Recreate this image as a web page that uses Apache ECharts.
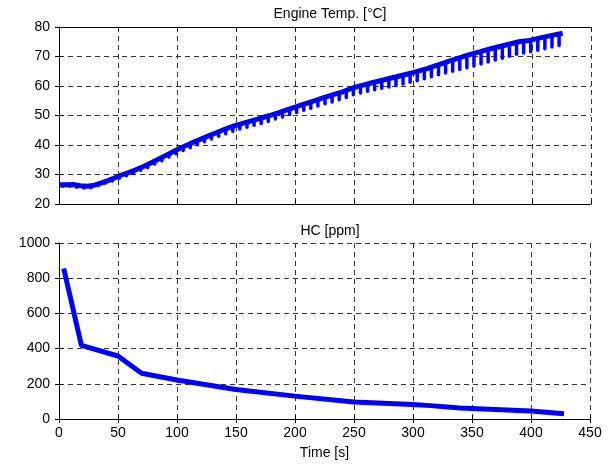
<!DOCTYPE html>
<html>
<head>
<meta charset="utf-8">
<script src="https://cdn.jsdelivr.net/npm/echarts@6/dist/echarts.min.js"></script>
<style>
html,body{margin:0;padding:0;background:#fff;}
#main{width:612px;height:466px;}
</style>
</head>
<body>
<div id="main"></div>
<script>
// 发动机温度：上包络 (时间 s, 温度 °C)
var peakTime = [0,6,12,18,24,30,36,42,48,54,60,66,72,78,84,90,96,102,108,114,120,126,132,138,144,150,156,162,168,174,
	180,186,192,198,204,210,216,222,228,234,240,246,252,258,264,270,276,282,288,294,300,306,312,318,324,330,336,342,348,354,
	360,366,372,378,384,390,396,402,408,414,420,426];
var peakValue = [26.5,26.5,26.6,26.2,26.0,26.4,27.2,28.0,29.0,30.0,30.8,31.8,32.8,34.0,35.2,36.4,37.6,38.8,39.9,41.0,
	42.0,43.0,44.0,45.0,45.9,46.7,47.4,48.1,48.8,49.5,50.2,51.0,51.8,52.6,53.4,54.2,55.0,55.8,56.6,57.3,
	58.0,59.0,59.8,60.4,61.0,61.6,62.2,62.8,63.4,64.0,64.6,65.3,66.0,66.8,67.6,68.4,69.2,70.0,70.7,71.4,
	72.1,72.7,73.3,73.9,74.5,75.1,75.3,75.8,76.4,76.9,77.4,77.9];
// 发动机温度：周期性下探 (时间 s, 温度 °C)
var dipTime = [3,9,15,21,27,33,39,45,51,57,63,69,75,81,87,93,99,105,111,117,123,129,135,141,147,153,159,165,171,177,
	183,189,195,201,207,213,219,225,231,237,243,249,255,261,267,273,279,285,291,297,303,309,315,321,327,333,339,345,351,357,
	363,369,375,381,387,393,399,405,411,417,423];
var dipValue = [26.0,26.0,25.7,25.4,25.5,26.2,27.0,27.8,28.7,29.6,30.4,31.4,32.4,33.6,34.7,35.9,37.0,38.1,39.1,40.1,
	41.1,42.0,43.0,43.8,44.7,45.4,46.0,46.7,47.3,48.0,48.8,49.5,50.3,51.0,51.8,52.5,53.2,54.0,54.6,55.3,
	56.1,57.0,57.6,58.2,58.7,59.2,59.7,60.2,60.7,61.3,61.8,62.5,63.1,63.8,64.4,65.0,65.6,66.2,66.8,67.5,
	68.1,68.8,69.4,70.1,70.8,71.2,71.6,72.1,72.6,73.2,73.7];

// HC 浓度 (时间 s, ppm)
var hcTime = [4,19,50,70,100,150,200,250,300,315,340,400,428];
var hcValue = [855,418,358,260,222,168,130,96,82,76,62,46,30];

var font = "'Liberation Sans', Arial, sans-serif";
var fs = 14;

function pairs(xs, ys) {
	var out = [];
	for (var i = 0; i < xs.length; i++) out.push([xs[i], ys[i]]);
	return out;
}
// 下探线段：从包络（相邻峰值平均）到下探值
function dipSegments() {
	var out = [];
	for (var i = 0; i < dipTime.length; i++) {
		var top = (peakValue[i] + peakValue[i + 1]) / 2;
		out.push([dipTime[i], top, dipValue[i]]);
	}
	return out;
}

var dashLine = { show: true, lineStyle: { color: '#333', type: [5, 4], width: 1 } };

function xAxisDef(grid, showLabel, pos) {
	return {
		type: 'value', gridIndex: grid, position: pos, min: 0, max: 450, interval: 50,
		axisLine: { show: true, lineStyle: { color: '#000', width: 1 } },
		axisTick: { show: true, inside: true, length: 4, lineStyle: { color: '#000' } },
		axisLabel: { show: showLabel, color: '#000', fontSize: fs, fontFamily: font, margin: 7 },
		splitLine: pos === 'bottom' ? dashLine : { show: false },
		name: (grid === 1 && pos === 'bottom') ? 'Time [s]' : '',
		nameLocation: 'middle', nameGap: 27,
		nameTextStyle: { color: '#000', fontSize: fs, fontFamily: font }
	};
}
function yAxisDef(grid, min, max, step, showLabel, pos) {
	return {
		type: 'value', gridIndex: grid, position: pos, min: min, max: max, interval: step,
		axisLine: { show: true, lineStyle: { color: '#000', width: 1 } },
		axisTick: { show: true, inside: true, length: 4, lineStyle: { color: '#000' } },
		axisLabel: { show: showLabel, color: '#000', fontSize: fs, fontFamily: font, margin: 9,
			formatter: function (v) { return String(v); } },
		splitLine: pos === 'left' ? dashLine : { show: false }
	};
}

var myChart = echarts.init(document.getElementById('main'));
var option = {
	animation: false,
	backgroundColor: '#fff',
	title: [
		{ text: 'Engine Temp. [°C]', left: 325, top: 2, textAlign: 'center',
			textStyle: { color: '#000', fontSize: fs, fontWeight: 'normal', fontFamily: font } },
		{ text: 'HC [ppm]', left: 325, top: 219, textAlign: 'center',
			textStyle: { color: '#000', fontSize: fs, fontWeight: 'normal', fontFamily: font } }
	],
	grid: [
		{ left: 59, top: 27, right: 21, height: 177 },
		{ left: 59, top: 243, right: 22, height: 176 }
	],
	xAxis: [
		xAxisDef(0, false, 'bottom'), xAxisDef(0, false, 'top'),
		xAxisDef(1, true, 'bottom'), xAxisDef(1, false, 'top')
	],
	yAxis: [
		yAxisDef(0, 20, 80, 10, true, 'left'), yAxisDef(0, 20, 80, 10, false, 'right'),
		yAxisDef(1, 0, 1000, 200, true, 'left'), yAxisDef(1, 0, 1000, 200, false, 'right')
	],
	series: [
		{
			name: 'Engine Temp', type: 'line', xAxisIndex: 0, yAxisIndex: 0,
			data: pairs(peakTime, peakValue), showSymbol: false,
			lineStyle: { color: '#0000ff', width: 5 }
		},
		{
			name: 'Engine Temp dips', type: 'custom', xAxisIndex: 0, yAxisIndex: 0,
			data: dipSegments(),
			renderItem: function (params, api) {
				var p1 = api.coord([api.value(0), api.value(1)]);
				var p2 = api.coord([api.value(0), api.value(2)]);
				return {
					type: 'line',
					shape: { x1: p1[0], y1: p1[1], x2: p2[0], y2: p2[1] },
					style: { stroke: '#0000ff', lineWidth: 3.5, lineCap: 'round' }
				};
			}
		},
		{
			name: 'HC', type: 'line', xAxisIndex: 2, yAxisIndex: 2,
			data: pairs(hcTime, hcValue), showSymbol: false,
			lineStyle: { color: '#0000ff', width: 5 }
		}
	]
};
myChart.setOption(option);
</script>
</body>
</html>
